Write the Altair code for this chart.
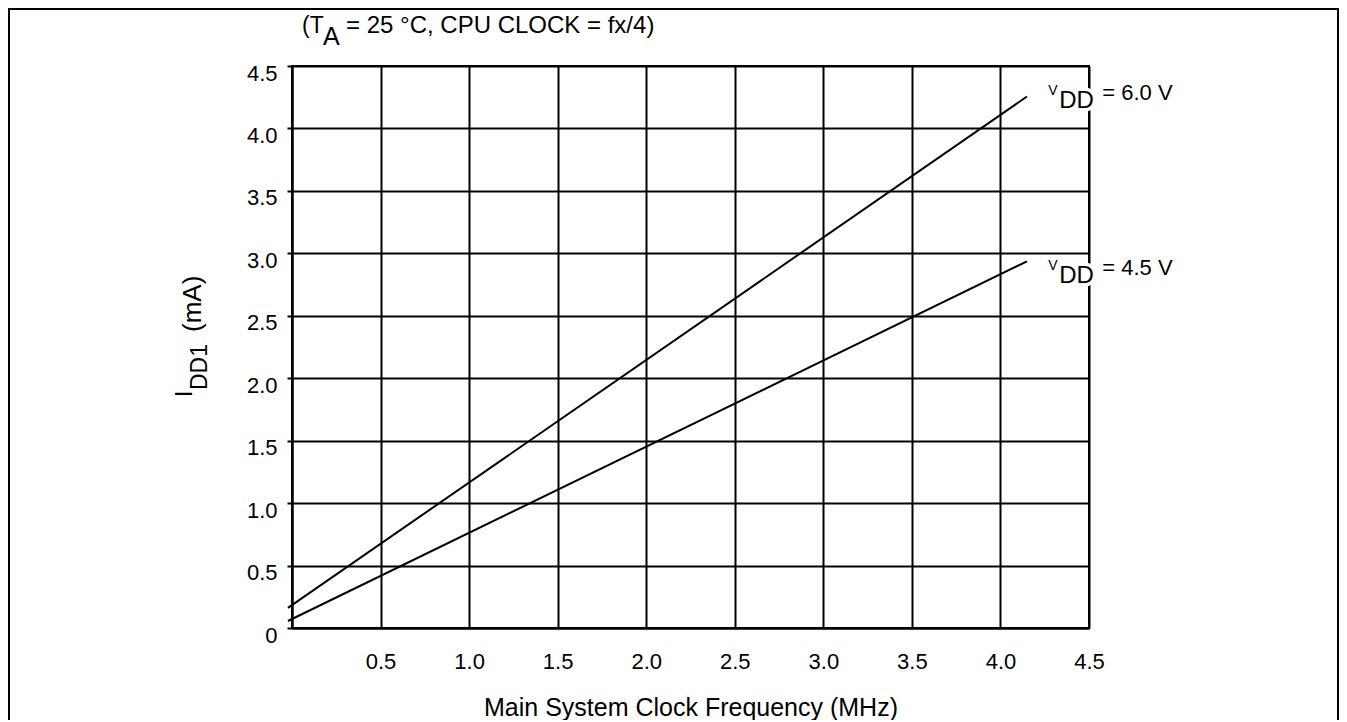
import altair as alt
import pandas as pd

# ---- data ----
x_ticks = [0, 0.5, 1.0, 1.5, 2.0, 2.5, 3.0, 3.5, 4.0, 4.5]
y_ticks = [0, 0.5, 1.0, 1.5, 2.0, 2.5, 3.0, 3.5, 4.0, 4.5]

series_names = ["VDD = 6.0 V", "VDD = 4.5 V"]
freq_points = [-0.023, 4.15]          # MHz, start / end of each drawn line
idd_vdd60 = [0.161, 4.256]            # mA
idd_vdd45 = [0.056, 2.936]            # mA

label_rest = ["= 6.0 V", "= 4.5 V"]
label_x = [4.27, 4.27]                # MHz
label_y = [4.224, 2.824]              # mA (baseline of the label)

FONT = "Liberation Sans"

lines_df = pd.DataFrame({
    "freq": freq_points + freq_points,
    "idd": idd_vdd60 + idd_vdd45,
    "series": [series_names[0]] * 2 + [series_names[1]] * 2,
})
labels_df = pd.DataFrame({"lx": label_x, "ly": label_y, "rest": label_rest})
one = pd.DataFrame({"k": [0]})

x_enc = alt.X(
    "freq:Q",
    scale=alt.Scale(domain=[0, 4.5], nice=False, zero=False),
    axis=alt.Axis(
        values=x_ticks,
        title="Main System Clock Frequency (MHz)",
        labelExpr="datum.value == 0 ? '' : format(datum.value, '.1f')",
        grid=True, gridColor="black", gridWidth=2, gridOpacity=1,
        domainColor="black", domainWidth=2,
        ticks=False, tickSize=0, labelFlush=False,
        labelPadding=33, labelBaseline="middle", labelFontSize=22,
        labelFont=FONT, labelColor="black",
        titleFont=FONT, titleFontSize=25, titleFontWeight="normal",
        titleColor="black", titleY=87, titleBaseline="alphabetic",
    ),
)
y_enc = alt.Y(
    "idd:Q",
    scale=alt.Scale(domain=[0, 4.5], nice=False, zero=False),
    axis=alt.Axis(
        values=y_ticks,
        title=None,
        labelExpr="datum.value == 0 ? '0' : format(datum.value, '.1f')",
        grid=True, gridColor="black", gridWidth=2, gridOpacity=1,
        domainColor="black", domainWidth=2,
        ticks=True, tickSize=5, tickColor="black", tickWidth=2,
        labelPadding=10, labelOffset=7, labelBaseline="middle",
        labelFontSize=22, labelFont=FONT, labelColor="black",
    ),
)

lines = alt.Chart(lines_df).mark_line(color="black", strokeWidth=2, clip=False).encode(
    x=x_enc, y=y_enc, detail="series:N"
)


def label_piece(text_kw, size, dx, dy, halo):
    kw = dict(font=FONT, fontSize=size, align="left", baseline="alphabetic", dx=dx, dy=dy)
    if halo:
        kw.update(color="white", stroke="white", strokeWidth=7)
    else:
        kw.update(color="black")
    if "text" in text_kw:
        kw["text"] = text_kw["text"]
        return alt.Chart(labels_df).mark_text(**kw).encode(x="lx:Q", y="ly:Q")
    return alt.Chart(labels_df).mark_text(**kw).encode(x="lx:Q", y="ly:Q", text="rest:N")


label_layers = []
for halo in (True, False):
    label_layers += [
        label_piece({"text": "V"}, 14, 0, -5, halo),
        label_piece({"text": "DD"}, 24, 11, 8, halo),
        label_piece({}, 22, 54, 0, halo),
    ]

# title  (T_A = 25 °C, CPU CLOCK = fx/4)
t1 = alt.Chart(one).mark_text(text="(T", font=FONT, fontSize=23, align="left",
                              baseline="alphabetic", color="black").encode(
    x=alt.value(10), y=alt.value(-33))
t2 = alt.Chart(one).mark_text(text="A", font=FONT, fontSize=25, align="left",
                              baseline="alphabetic", color="black").encode(
    x=alt.value(31), y=alt.value(-21))
t3 = alt.Chart(one).mark_text(text="= 25 °C, CPU CLOCK = fx/4)", font=FONT, fontSize=24,
                              align="left", baseline="alphabetic", color="black").encode(
    x=alt.value(54), y=alt.value(-33))

# y title  I_DD1 (mA), rotated
y1 = alt.Chart(one).mark_text(text="I", font=FONT, fontSize=23, angle=270, align="left",
                              baseline="alphabetic", color="black").encode(
    x=alt.value(-100), y=alt.value(331))
y2 = alt.Chart(one).mark_text(text="DD1", font=FONT, fontSize=23, angle=270, align="left",
                              baseline="alphabetic", color="black").encode(
    x=alt.value(-85), y=alt.value(324))
y3 = alt.Chart(one).mark_text(text="(mA)", font=FONT, fontSize=26, angle=270, align="left",
                              baseline="alphabetic", color="black").encode(
    x=alt.value(-91), y=alt.value(266))

frame = alt.Chart(one).mark_rect(filled=False, stroke="black", strokeWidth=2).encode(
    x=alt.value(-283), x2=alt.value(1046), y=alt.value(-57), y2=alt.value(720)
)

chart = alt.layer(
    frame, lines, *label_layers, t1, t2, t3, y1, y2, y3
).properties(
    width=797, height=562,
    padding={"left": 284, "top": 58, "right": 250, "bottom": 92},
    autosize=alt.AutoSizeParams(type="none"),
    background="white",
).configure_view(stroke="black", strokeWidth=2)

chart.save("out.html", embed_options={"renderer": "svg", "actions": False})
